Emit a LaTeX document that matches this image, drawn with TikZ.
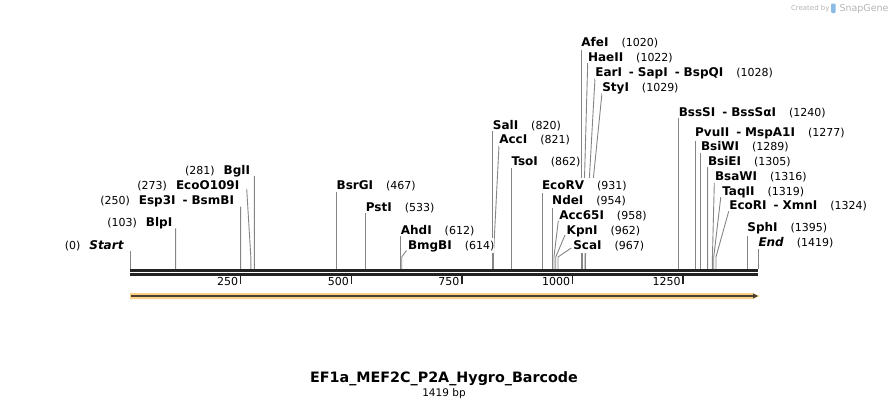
\documentclass[tikz,border=0pt]{standalone}
\usepackage{fontspec}
\setmainfont{DejaVu Sans}
\usetikzlibrary{calc,arrows.meta}
\pgfdeclarelayer{bg}
\pgfsetlayers{bg,main}
\definecolor{cutgray}{HTML}{858585}
\definecolor{bbcol}{HTML}{222222}
\definecolor{feat}{HTML}{FAD089}
\definecolor{featline}{HTML}{4A4030}
\definecolor{wm}{HTML}{B4B4B4}
\definecolor{sgblue}{HTML}{8DBBE8}
\newcommand\nm[1]{{\fontsize{12}{14}\selectfont\bfseries #1}}
\newcommand\nb[1]{{\fontsize{11}{13}\selectfont #1}}
\newcommand\dsh{{\fontsize{12}{14}\selectfont\bfseries\hspace{7pt}-\hspace{4pt}}}
\newcommand\gp{\hspace{13pt}}
\begin{document}
\begin{tikzpicture}[x=1pt,y=-1pt,
  lbl/.style={inner sep=0pt, outer sep=0pt},
  sitelbl/.style={fill=white, inner xsep=0pt, inner ysep=0.6pt, text height=10.5pt, text depth=3.2pt, outer sep=0pt},
  rl/.style={sitelbl, anchor=base west},
  ll/.style={sitelbl, anchor=base east},
  cut/.style={draw=cutgray, line width=0.9pt},
  bbline/.style={draw=bbcol, line width=2.6pt},
  tickmark/.style={draw=bbcol, line width=1.5pt},
  ticklbl/.style={lbl, anchor=base east, font=\fontsize{11}{13}\selectfont}]
\useasboundingbox (0,0) rectangle (889,408);

% backbone
\coordinate (bbL) at (130,270.3);
\coordinate (bbR) at (758,270.3);
\coordinate (bbL2) at (130,274.5);
\coordinate (bbR2) at (758,274.5);
\draw[bbline] (bbL) -- (bbR);
\draw[bbline] (bbL2) -- (bbR2);

% ticks
\foreach \v/\x in {250/240.64, 500/351.29, 750/461.93, 1000/572.57, 1250/683.21}{
  \coordinate (t\v) at (\x,275.5);
  \draw[tickmark] (t\v) -- ++(0,8);
  \node[ticklbl] (tl\v) at (\x-2.5,285.5) {\v};
}

% feature arrow
\fill[feat] (130,293) -- (752,293) -- (760,296) -- (752,299) -- (130,299) -- cycle;
\coordinate (fS) at (131,296);
\coordinate (fE) at (758,296);
\draw[featline, line width=1.7pt, -{Triangle[length=5pt,width=5pt]}] (fS) -- (fE);

% site coordinates on backbone
\foreach \n/\x in {0/130,103/175.58,250/240.64,273/250.82,281/254.36,467/336.68,533/365.89,612/400.85,614/401.74,820/492.91,821/493.35,862/511.50,931/542.03,954/552.21,958/553.98,962/555.75,967/557.97,1020/581.42,1022/582.31,1028/584.96,1029/585.40,1240/678.79,1277/695.16,1289/700.47,1305/707.55,1316/712.42,1319/713.75,1324/715.96,1395/747.39,1419/758.0}{
  \coordinate (s\n) at (\x,269);
  \coordinate (k\n) at (\x,257);
}

% ---- left-side labels
\node[ll] (start) at (123.5,249) {\nb{(0)}\hspace{9pt}\nm{\itshape Start}};
\node[ll] (blpi) at (172.3,226) {\nb{(103)}\hspace{9pt}\nm{BlpI}};
\node[ll] (esp) at (234,204.3) {\nb{(250)}\hspace{9pt}\nm{Esp3I}\dsh\nm{BsmBI}};
\node[ll] (eco109) at (239.3,189) {\nb{(273)}\hspace{9pt}\nm{EcoO109I}};
\node[ll] (bgli) at (250,174) {\nb{(281)}\hspace{9pt}\nm{BglI}};

% ---- right-side labels
\node[rl] (bsrgi) at (336.68,189.3) {\nm{BsrGI}\gp\nb{(467)}};
\node[rl] (psti) at (365.89,211) {\nm{PstI}\gp\nb{(533)}};
\node[rl] (ahdi) at (400.85,234) {\nm{AhdI}\gp\nb{(612)}};
\node[rl] (bmgbi) at (408,249.3) {\nm{BmgBI}\gp\nb{(614)}};
\node[rl] (sali) at (492.91,129) {\nm{SalI}\gp\nb{(820)}};
\node[rl] (acci) at (499.3,143.3) {\nm{AccI}\gp\nb{(821)}};
\node[rl] (tsoi) at (511.5,165.7) {\nm{TsoI}\gp\nb{(862)}};
\node[rl] (ecorv) at (542.03,189) {\nm{EcoRV}\gp\nb{(931)}};
\node[rl] (ndei) at (552.21,204) {\nm{NdeI}\gp\nb{(954)}};
\node[rl] (acc65) at (559.3,219) {\nm{Acc65I}\gp\nb{(958)}};
\node[rl] (kpni) at (566.7,234) {\nm{KpnI}\gp\nb{(962)}};
\node[rl] (scai) at (573.3,249) {\nm{ScaI}\gp\nb{(967)}};
\node[rl] (afei) at (581.42,46) {\nm{AfeI}\gp\nb{(1020)}};
\node[rl] (haeii) at (588,61) {\nm{HaeII}\gp\nb{(1022)}};
\node[rl] (eari) at (595.3,76) {\nm{EarI}\dsh\nm{SapI}\dsh\nm{BspQI}\gp\nb{(1028)}};
\node[rl] (styi) at (602.3,91) {\nm{StyI}\gp\nb{(1029)}};
\node[rl] (bsssi) at (678.79,116) {\nm{BssSI}\dsh\nm{BssSαI}\gp\nb{(1240)}};
\node[rl] (pvuii) at (695.16,136.7) {\nm{PvuII}\dsh\nm{MspA1I}\gp\nb{(1277)}};
\node[rl] (bsiwi) at (701,150.7) {\nm{BsiWI}\gp\nb{(1289)}};
\node[rl] (bsiei) at (708,165) {\nm{BsiEI}\gp\nb{(1305)}};
\node[rl] (bsawi) at (715,180.7) {\nm{BsaWI}\gp\nb{(1316)}};
\node[rl] (taqii) at (722.3,195) {\nm{TaqII}\gp\nb{(1319)}};
\node[rl] (ecori) at (729.3,209.3) {\nm{EcoRI}\dsh\nm{XmnI}\gp\nb{(1324)}};
\node[rl] (sphi) at (747.39,231.7) {\nm{SphI}\gp\nb{(1395)}};
\node[rl] (endl) at (758.5,246.7) {\nm{\itshape End}\gp\nb{(1419)}};

% ---- cut-site connectors (behind the labels)
\begin{pgfonlayer}{bg}
\draw[cut] ([shift={(6.5pt,-1.5pt)}]start.base east) -- (s0);
\draw[cut] ([shift={(3.3pt,-2.3pt)}]blpi.base east) -- (s103);
\draw[cut] ([shift={(6.6pt,-2.4pt)}]esp.base east) -- (s250);
\draw[cut] ([shift={(7.4pt,0pt)}]eco109.base east) -- (k273) -- (s273);
\draw[cut] ([shift={(4.4pt,-2pt)}]bgli.base east) -- (s281);
\draw[cut] ([yshift=-2.4pt]bsrgi.base west) -- (s467);
\draw[cut] ([yshift=-2.2pt]psti.base west) -- (s533);
\draw[cut] ([yshift=-2.2pt]ahdi.base west) -- (s612);
\draw[cut] ([shift={(-1.5pt,-1.2pt)}]bmgbi.base west) -- (k614) -- (s614);
\draw[cut] ([yshift=-2.2pt]sali.base west) -- (s820);
\draw[cut] ([shift={(-0.3pt,-2.2pt)}]acci.base west) -- (k821) -- (s821);
\draw[cut] ([yshift=-2.2pt]tsoi.base west) -- (s862);
\draw[cut] ([yshift=-2.2pt]ecorv.base west) -- (s931);
\draw[cut] ([yshift=-2.2pt]ndei.base west) -- (s954);
\draw[cut] ([shift={(-1pt,-1.7pt)}]acc65.base west) -- (k958) -- (s958);
\draw[cut] ([shift={(-1.7pt,-1pt)}]kpni.base west) -- (k962) -- (s962);
\draw[cut] ([shift={(-2pt,1pt)}]scai.base west) -- (k967) -- (s967);
\draw[cut] ([yshift=-2.2pt]afei.base west) -- (s1020);
\draw[cut] ([shift={(-0.3pt,-2pt)}]haeii.base west) -- (k1022) -- (s1022);
\draw[cut] ([shift={(-0.3pt,-2pt)}]eari.base west) -- (k1028) -- (s1028);
\draw[cut] ([shift={(-0.3pt,-2pt)}]styi.base west) -- (k1029) -- (s1029);
\draw[cut] ([yshift=-2.2pt]bsssi.base west) -- (s1240);
\draw[cut] ([yshift=-2.2pt]pvuii.base west) -- (s1277);
\draw[cut] ([shift={(-0.5pt,-2.2pt)}]bsiwi.base west) -- (s1289);
\draw[cut] ([shift={(-0.4pt,-2.2pt)}]bsiei.base west) -- (s1305);
\draw[cut] ([shift={(-0.7pt,-2.2pt)}]bsawi.base west) -- (k1316) -- (s1316);
\draw[cut] ([shift={(-1.5pt,-2pt)}]taqii.base west) -- (k1319) -- (s1319);
\draw[cut] ([shift={(-0.6pt,-2pt)}]ecori.base west) -- (k1324) -- (s1324);
\draw[cut] ([yshift=-2.2pt]sphi.base west) -- (s1395);
\draw[cut] ([shift={(-0.5pt,-2.2pt)}]endl.base west) -- (s1419);
\end{pgfonlayer}

% title
\node[lbl, anchor=base] (title) at (444,382.5) {\fontsize{14.3}{16}\selectfont\bfseries EF1a\_MEF2C\_P2A\_Hygro\_Barcode};
\node[lbl, anchor=base] (len) at (444,396) {\fontsize{10.5}{12}\selectfont 1419 bp};

% watermark
\node[lbl, anchor=base west, text=wm] (wm1) at (791,10.5) {\fontsize{7}{8}\selectfont Created by};
\fill[sgblue, rounded corners=1pt] (831,3.5) rectangle (835.5,13);
\node[lbl, anchor=base west, text=wm] (wm2) at (839.5,11.5) {\fontsize{9.5}{10}\selectfont SnapGene};
\end{tikzpicture}
\end{document}
